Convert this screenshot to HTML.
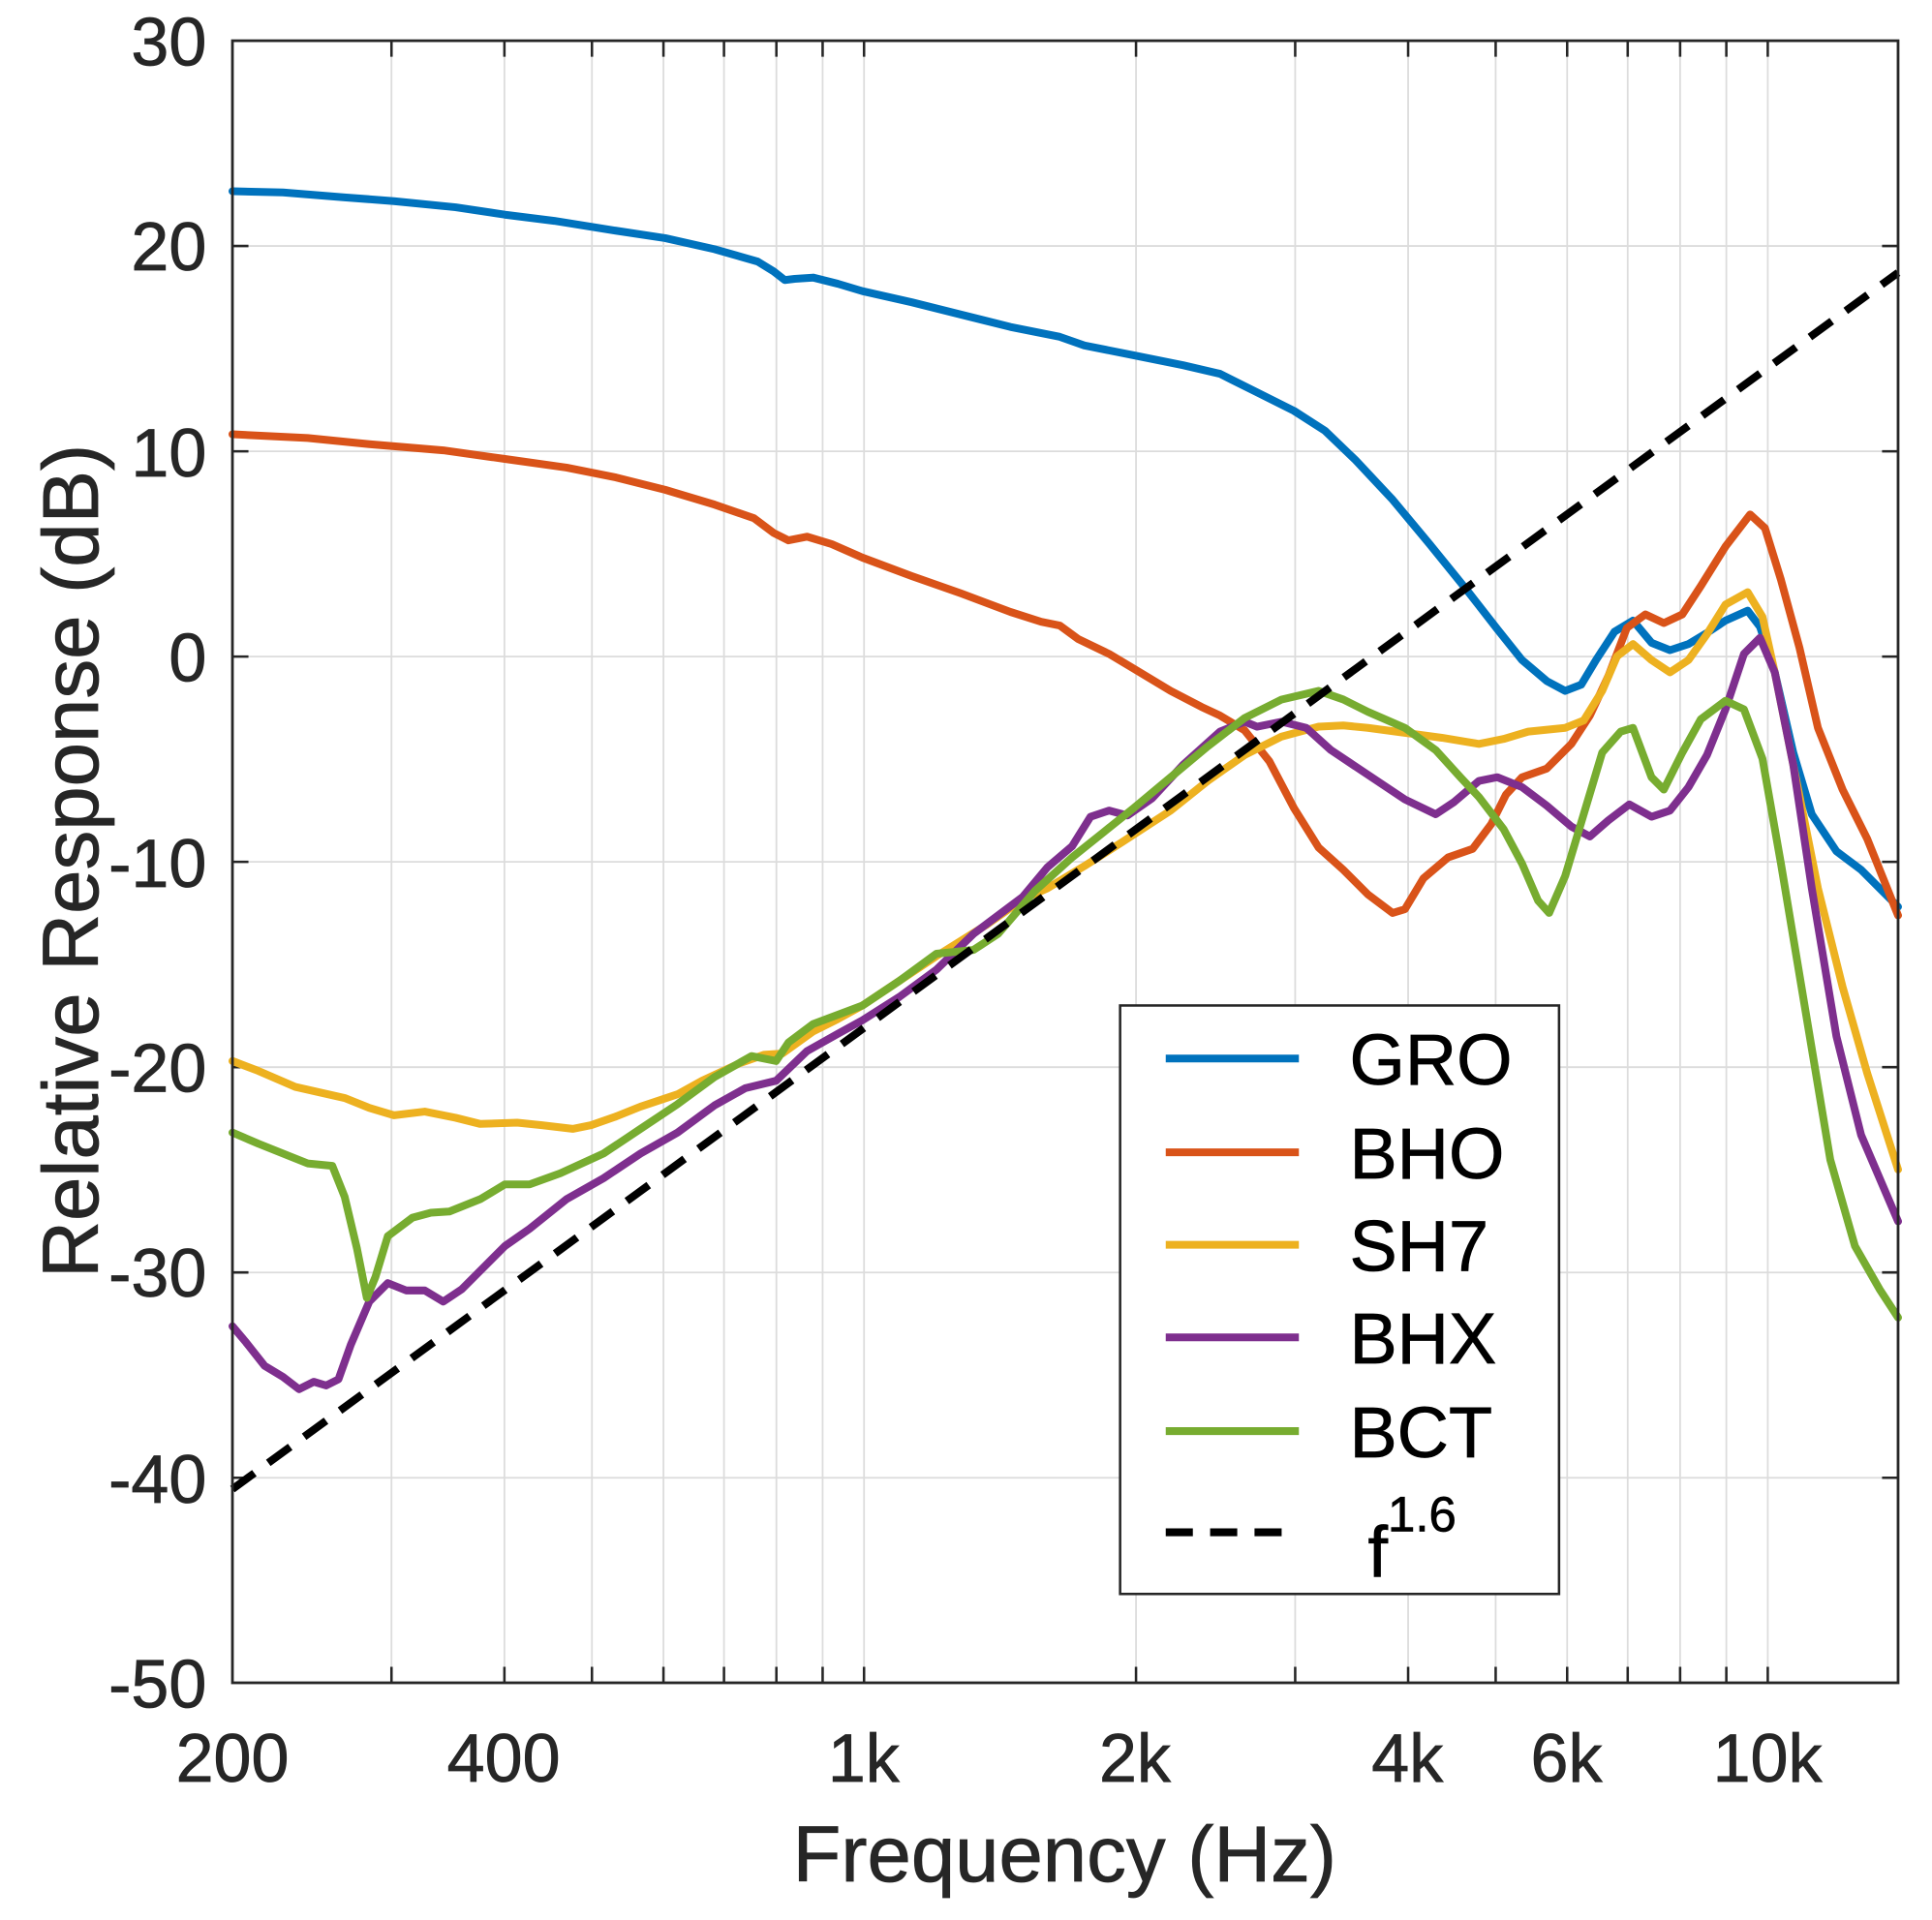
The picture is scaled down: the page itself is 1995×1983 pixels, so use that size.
<!DOCTYPE html>
<html><head><style>html,body{margin:0;padding:0;background:#fff}svg{display:block}</style></head>
<body>
<svg width="1995" height="1983" viewBox="0 0 1995 1983" xmlns="http://www.w3.org/2000/svg">
<rect width="1995" height="1983" fill="#fff"/>
<g transform="matrix(1.2731,0,0,1.2742,-0.6,0)" font-family="Liberation Sans, Arial, sans-serif" fill="#262626">
<g stroke="#dcdcdc" stroke-width="1.4">
<line x1="318" y1="33" x2="318" y2="1364"/><line x1="409.6" y1="33" x2="409.6" y2="1364"/><line x1="480.6" y1="33" x2="480.6" y2="1364"/><line x1="538.6" y1="33" x2="538.6" y2="1364"/><line x1="587.7" y1="33" x2="587.7" y2="1364"/><line x1="630.2" y1="33" x2="630.2" y2="1364"/><line x1="667.7" y1="33" x2="667.7" y2="1364"/><line x1="701.3" y1="33" x2="701.3" y2="1364"/><line x1="921.9" y1="33" x2="921.9" y2="1364"/><line x1="1051" y1="33" x2="1051" y2="1364"/><line x1="1142.6" y1="33" x2="1142.6" y2="1364"/><line x1="1213.6" y1="33" x2="1213.6" y2="1364"/><line x1="1271.6" y1="33" x2="1271.6" y2="1364"/><line x1="1320.7" y1="33" x2="1320.7" y2="1364"/><line x1="1363.2" y1="33" x2="1363.2" y2="1364"/><line x1="1400.7" y1="33" x2="1400.7" y2="1364"/><line x1="1434.3" y1="33" x2="1434.3" y2="1364"/>
<line x1="189" y1="199.4" x2="1540" y2="199.4"/><line x1="189" y1="365.8" x2="1540" y2="365.8"/><line x1="189" y1="532.2" x2="1540" y2="532.2"/><line x1="189" y1="698.6" x2="1540" y2="698.6"/><line x1="189" y1="865" x2="1540" y2="865"/><line x1="189" y1="1031.4" x2="1540" y2="1031.4"/><line x1="189" y1="1197.8" x2="1540" y2="1197.8"/>
</g>
<g stroke="#262626" stroke-width="2">
<path d="M318 1364v-13M409.6 1364v-13M480.6 1364v-13M538.6 1364v-13M587.7 1364v-13M630.2 1364v-13M667.7 1364v-13M701.3 1364v-13M921.9 1364v-13M1051 1364v-13M1142.6 1364v-13M1213.6 1364v-13M1271.6 1364v-13M1320.7 1364v-13M1363.2 1364v-13M1400.7 1364v-13M1434.3 1364v-13"/>
<path d="M318 33v13M409.6 33v13M480.6 33v13M538.6 33v13M587.7 33v13M630.2 33v13M667.7 33v13M701.3 33v13M921.9 33v13M1051 33v13M1142.6 33v13M1213.6 33v13M1271.6 33v13M1320.7 33v13M1363.2 33v13M1400.7 33v13M1434.3 33v13"/>
<path d="M189 199.4h13M189 365.8h13M189 532.2h13M189 698.6h13M189 865h13M189 1031.4h13M189 1197.8h13M1540 199.4h-13M1540 365.8h-13M1540 532.2h-13M1540 698.6h-13M1540 865h-13M1540 1031.4h-13M1540 1197.8h-13"/>
</g>
<g fill="none" stroke-width="6.3" stroke-linejoin="round" stroke-linecap="round">
<polyline stroke="#0072BD" points="189,155 230,156 280,160 320,163 370,168 410,174 450,179 500,187 540,193 580,202 615,212 628,220 637,227 645,226 660,225 680,230 700,236 740,245 780,255 820,265 860,273 880,280 920,288 960,296 990,303 1020,318 1050,333 1075,349 1100,373 1130,405 1160,441 1190,478 1215,510 1235,535 1255,552 1270,560 1283,555 1295,535 1310,512 1325,503 1340,521 1355,527 1370,522 1385,513 1400,503 1418,495 1428,508 1440,545 1455,610 1470,660 1490,690 1510,705 1540,735"/>
<polyline stroke="#D95319" points="189,352 250,355 300,360 360,365 410,372 460,379 500,387 540,397 580,409 612,420 628,432 640,438 655,435 675,441 700,452 740,467 780,481 820,496 845,504 860,507 875,518 900,530 920,542 950,560 975,573 990,580 1010,592 1030,617 1050,655 1070,687 1090,705 1110,725 1130,740 1140,737 1155,712 1175,695 1195,688 1210,668 1222,644 1235,630 1255,623 1275,603 1290,580 1305,548 1320,509 1335,498 1350,505 1365,498 1380,475 1400,443 1420,417 1432,428 1445,470 1460,525 1475,590 1495,640 1515,680 1540,742"/>
<polyline stroke="#EDB120" points="189,860 210,868 240,881 280,890 300,898 320,904 345,901 370,906 390,911 420,910 440,912 465,915 480,912 500,905 520,897 550,887 570,876 600,862 620,855 635,854 660,836 680,826 700,815 730,795 760,775 800,750 830,729 850,720 880,702 910,683 950,657 980,633 1010,612 1040,597 1070,589 1090,588 1110,590 1140,594 1170,598 1200,603 1220,599 1240,593 1270,590 1285,584 1300,560 1312,532 1325,522 1340,535 1355,545 1370,535 1385,514 1400,490 1418,480 1430,500 1440,545 1455,620 1475,720 1495,800 1515,870 1540,948"/>
<polyline stroke="#7E2F8E" points="189,1075 200,1088 215,1107 230,1116 243,1126 255,1120 265,1123 275,1118 285,1090 300,1055 315,1040 330,1046 345,1046 360,1055 375,1045 395,1025 410,1010 430,996 460,972 490,955 520,935 550,918 580,896 605,882 630,876 655,852 680,838 700,827 730,808 760,786 790,757 830,727 850,703 870,686 885,662 900,657 915,661 935,647 960,620 990,593 1010,585 1020,589 1040,585 1060,590 1080,608 1110,628 1140,648 1165,660 1180,650 1200,633 1215,630 1235,638 1255,653 1275,670 1290,678 1305,665 1322,652 1340,662 1355,657 1370,638 1385,612 1400,575 1415,530 1428,517 1440,545 1455,620 1470,720 1490,840 1510,920 1540,990"/>
<polyline stroke="#77AC30" points="189,918 210,927 235,937 250,943 270,945 280,970 290,1012 298,1052 305,1035 315,1002 335,987 350,983 365,982 390,972 410,960 430,960 455,951 490,935 520,915 550,895 580,873 610,856 630,860 640,845 660,830 700,815 730,795 760,773 790,770 810,757 840,722 870,695 895,675 920,655 950,630 980,605 1010,582 1040,567 1070,560 1090,567 1110,577 1140,590 1165,608 1185,630 1200,646 1220,672 1235,700 1248,730 1257,740 1270,710 1285,660 1300,610 1315,593 1325,590 1340,630 1350,640 1365,610 1380,583 1400,568 1415,575 1430,615 1445,700 1465,820 1485,940 1505,1010 1525,1045 1540,1068"/>
<line x1="189" y1="1207" x2="1540" y2="221" stroke="#000" stroke-dasharray="22,14" stroke-linecap="butt"/>
</g>
<rect x="189" y="33" width="1351" height="1331" fill="none" stroke="#262626" stroke-width="2.2"/>
<rect x="909" y="815" width="356" height="477" fill="#fff" stroke="#262626" stroke-width="2"/>
<g stroke-width="6.3" fill="none">
<line x1="946" y1="858" x2="1054" y2="858" stroke="#0072BD"/>
<line x1="946" y1="934" x2="1054" y2="934" stroke="#D95319"/>
<line x1="946" y1="1009" x2="1054" y2="1009" stroke="#EDB120"/>
<line x1="946" y1="1084" x2="1054" y2="1084" stroke="#7E2F8E"/>
<line x1="946" y1="1160" x2="1054" y2="1160" stroke="#77AC30"/>
<line x1="946" y1="1242" x2="1054" y2="1242" stroke="#000" stroke-dasharray="22,14"/>
</g>
<g font-size="58" fill="#000" stroke="#000" stroke-width="0.6">
<text x="1095" y="879">GRO</text><text x="1095" y="955">BHO</text><text x="1095" y="1030">SH7</text><text x="1095" y="1105">BHX</text><text x="1095" y="1181">BCT</text>
<text x="1110" y="1278">f<tspan font-size="40" dy="-37">1.6</tspan></text>
</g>
<g font-size="55" text-anchor="end" stroke="#262626" stroke-width="0.6">
<text x="168" y="53">30</text><text x="168" y="219">20</text><text x="168" y="386">10</text><text x="168" y="552">0</text><text x="168" y="719">-10</text><text x="168" y="885">-20</text><text x="168" y="1051">-30</text><text x="168" y="1218">-40</text><text x="168" y="1384">-50</text>
</g>
<g font-size="55" text-anchor="middle" stroke="#262626" stroke-width="0.6">
<text x="189" y="1444">200</text><text x="409" y="1444">400</text><text x="701" y="1444">1k</text><text x="921" y="1444">2k</text><text x="1142" y="1444">4k</text><text x="1271" y="1444">6k</text><text x="1434" y="1444">10k</text>
</g>
<text x="864" y="1525" font-size="64" text-anchor="middle" stroke="#262626" stroke-width="0.6">Frequency (Hz)</text>
<text transform="translate(80,698) rotate(-90)" font-size="64" text-anchor="middle" stroke="#262626" stroke-width="0.6">Relative Response (dB)</text>
</g>
</svg>
</body></html>
